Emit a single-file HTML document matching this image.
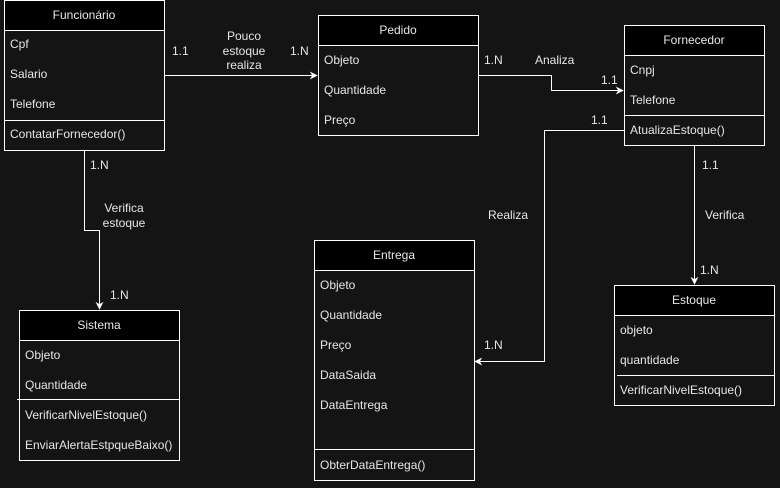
<!DOCTYPE html>
<html><head><meta charset="utf-8"><style>
html,body{margin:0;padding:0;background:#141414;}
svg{display:block;}
text{font-family:"Liberation Sans",sans-serif;font-size:12px;fill:#e6e6e6;}
</style></head><body>
<svg width="780" height="488" viewBox="0 0 780 488" xmlns="http://www.w3.org/2000/svg">
<defs>
<marker id="a" viewBox="0 0 10 10" refX="9" refY="5" markerWidth="8" markerHeight="8" orient="auto" markerUnits="userSpaceOnUse">
<path d="M0,0 L10,5 L0,10 L3,5 Z" fill="#fff"/></marker>
</defs>
<rect width="780" height="488" fill="#141414"/>
<g stroke="#fff" stroke-width="1" fill="none">
<!-- connectors -->
<path d="M164.5,75.5 H317" marker-end="url(#a)"/>
<path d="M478.5,75.5 H551.5 V90.5 H623" marker-end="url(#a)"/>
<path d="M624,130.5 H544.5 V361.5 H475" marker-end="url(#a)"/>
<path d="M694.5,145 V284" marker-end="url(#a)"/>
<path d="M84.5,150 V230.5 H99.5 V309" marker-end="url(#a)"/>
</g>
<g stroke="#fff" stroke-width="1">
<!-- Funcionario -->
<rect x="4.5" y="0.5" width="160" height="150" fill="#141414"/>
<rect x="4.5" y="0.5" width="160" height="30" fill="#000"/>
<line x1="4.5" y1="120.5" x2="164.5" y2="120.5"/>
<!-- Pedido -->
<rect x="318.5" y="15.5" width="160" height="120" fill="#141414"/>
<rect x="318.5" y="15.5" width="160" height="30" fill="#000"/>
<!-- Fornecedor -->
<rect x="624.5" y="25.5" width="140" height="120" fill="#141414"/>
<rect x="624.5" y="25.5" width="140" height="30" fill="#000"/>
<line x1="624.5" y1="115.5" x2="764.5" y2="115.5"/>
<!-- Entrega -->
<rect x="314.5" y="240.5" width="160" height="240" fill="#141414"/>
<rect x="314.5" y="240.5" width="160" height="30" fill="#000"/>
<line x1="314.5" y1="449.5" x2="474.5" y2="449.5"/>
<!-- Sistema -->
<rect x="19.5" y="310.5" width="160" height="150" fill="#141414"/>
<rect x="19.5" y="310.5" width="160" height="30" fill="#000"/>
<line x1="17" y1="399.5" x2="179.5" y2="399.5"/>
<!-- Estoque -->
<rect x="614.5" y="285.5" width="160" height="120" fill="#141414"/>
<rect x="614.5" y="285.5" width="160" height="30" fill="#000"/>
<line x1="617" y1="375.5" x2="774.5" y2="375.5"/>
</g>
<g>
<text x="84" y="19" text-anchor="middle">Funcionário</text>
<text x="10" y="48">Cpf</text>
<text x="10" y="78">Salario</text>
<text x="10" y="108">Telefone</text>
<text x="10" y="138">ContatarFornecedor()</text>

<text x="398" y="34" text-anchor="middle">Pedido</text>
<text x="324" y="64">Objeto</text>
<text x="324" y="94">Quantidade</text>
<text x="324" y="124">Preço</text>

<text x="694" y="44" text-anchor="middle">Fornecedor</text>
<text x="630" y="74">Cnpj</text>
<text x="630" y="104">Telefone</text>
<text x="630" y="134">AtualizaEstoque()</text>

<text x="394" y="259" text-anchor="middle">Entrega</text>
<text x="320" y="289">Objeto</text>
<text x="320" y="319">Quantidade</text>
<text x="320" y="349">Preço</text>
<text x="320" y="379">DataSaida</text>
<text x="320" y="409">DataEntrega</text>
<text x="320" y="469">ObterDataEntrega()</text>

<text x="99" y="329" text-anchor="middle">Sistema</text>
<text x="25" y="359">Objeto</text>
<text x="25" y="389">Quantidade</text>
<text x="25" y="419">VerificarNivelEstoque()</text>
<text x="25" y="449">EnviarAlertaEstpqueBaixo()</text>

<text x="694" y="304" text-anchor="middle">Estoque</text>
<text x="620" y="334">objeto</text>
<text x="620" y="364">quantidade</text>
<text x="620" y="394">VerificarNivelEstoque()</text>

<!-- connector labels -->
<text x="172" y="55">1.1</text>
<text x="244" y="40" text-anchor="middle">Pouco</text>
<text x="244" y="55" text-anchor="middle">estoque</text>
<text x="244" y="69" text-anchor="middle">realiza</text>
<text x="290" y="55">1.N</text>
<text x="484" y="64">1.N</text>
<text x="535" y="64">Analiza</text>
<text x="601" y="84">1.1</text>
<text x="591" y="124">1.1</text>
<text x="488" y="219">Realiza</text>
<text x="484" y="349">1.N</text>
<text x="702" y="169">1.1</text>
<text x="705" y="219">Verifica</text>
<text x="700" y="274">1.N</text>
<text x="90" y="169">1.N</text>
<text x="124" y="212" text-anchor="middle">Verifica</text>
<text x="124" y="227" text-anchor="middle">estoque</text>
<text x="110" y="299">1.N</text>
</g>
</svg>
</body></html>
